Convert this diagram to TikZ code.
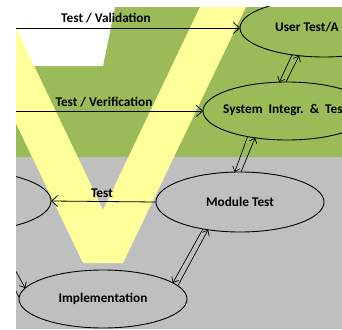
\documentclass[tikz,border=0pt]{standalone}
\usepackage{fontspec}
\setmainfont{Carlito}
\usetikzlibrary{arrows.meta, shapes.geometric}

\definecolor{vgreen}{HTML}{9BBB59}
\definecolor{vgray}{HTML}{BFBFBF}
\definecolor{vyellow}{HTML}{FFFF99}

\begin{document}
\begin{tikzpicture}[x=1pt, y=-1pt,
    stage/.style={draw, ellipse, line width=0.9pt, minimum width=168pt,
                  minimum height=58pt, inner sep=0pt, outer sep=0pt,
                  font=\fontsize{13.3}{15}\selectfont\bfseries},
    lbl/.style={inner sep=0pt, font=\fontsize{13.3}{15}\selectfont\bfseries},
    testarr/.style={line width=0.8pt, -{Straight Barb[length=6pt,width=11pt]}},
    pairarr/.style={line width=0.7pt, -{Straight Barb[length=4.5pt,width=8pt]}}]
                % Frame of the picture
                \useasboundingbox (0,0) rectangle (342,329);
                \clip (16,7) rectangle (342,329);

                % Background bands and the V
                \fill[vgreen] (16,7) rectangle (342,157);
                \fill[vgray] (16,157) rectangle (342,329);
                \fill[white] (16,7) -- (115,7) -- (103,66) -- (16,66) -- cycle;
                \fill[vyellow] (-40,7) -- (6,7) -- (103,210) -- (200,7) -- (246,7)
                    -- (123,263) -- (83,263) -- cycle;

                % Stages
                \node[stage] (usr) at (324,28) {};
                \node[stage] (sys) at (287,111) {};
                \node[stage, minimum height=60pt] (mod) at (240,202) {Module Test};
                \node[stage, minimum height=60pt] (mdes) at (-33,201) {};
                \node[stage] (impl) at (103,299) {Implementation};

                % Stage texts cut by the frame
                \node[lbl, anchor=west] (usrtxt) at (275,27) {User Test/A};
                \node[lbl, anchor=west] (systxt) at (223,110) {System~~Integr.~~\&~~Tes};

                % Test arrows
                \coordinate (valsrc) at (0,28);
                \coordinate (versrc) at (0,111);
                \draw[testarr] (valsrc) -- (usr.west);
                \draw[testarr] (versrc) -- (sys.west);
                \draw[testarr, {Straight Barb[length=6pt,width=11pt]}-] (mdes.east) -- (mod.west);
                \node[lbl] (valtxt) at (106,18) {Test / Validation};
                \node[lbl] (vertxt) at (104,102) {Test / Verification};
                \node[lbl] (testtxt) at (102,193) {Test};

                % Down and up between the stages
                \draw[pairarr] (usr.220) -- (sys.105);
                \draw[pairarr] (sys.92) -- (usr.228);
                \draw[pairarr] (sys.213) -- (mod.100);
                \draw[pairarr] (mod.88) -- (sys.220);
                \draw[pairarr] (mod.216) -- (impl.13);
                \draw[pairarr] (impl.10) -- (mod.221);
                \draw[pairarr] (mdes.-48) -- (impl.172);
                \draw[pairarr] (impl.179) -- (mdes.-56);
            \end{tikzpicture}
\end{document}
